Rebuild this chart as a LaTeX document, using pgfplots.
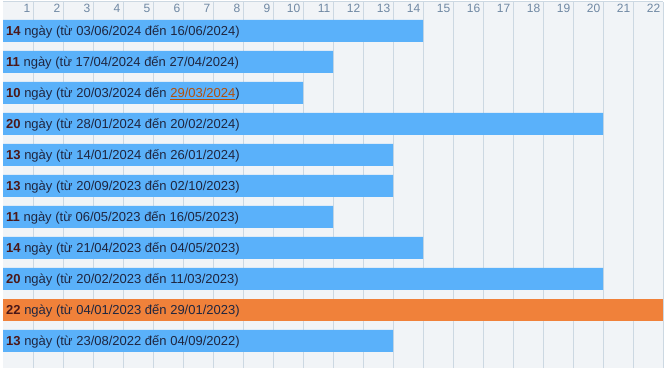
\documentclass[border=0pt]{standalone}
\usepackage{pgfplots}
\pgfplotsset{compat=1.18}
\usepackage{fontspec}
\setmainfont{Liberation Sans}
\definecolor{barblue}{HTML}{5AB1FA}
\definecolor{barorange}{HTML}{F0813A}
\definecolor{bgc}{HTML}{F1F4F7}
\definecolor{gridc}{HTML}{CCD8E2}
\definecolor{tickc}{HTML}{6F88A3}
\definecolor{numc}{HTML}{4B1818}
\definecolor{txtc}{HTML}{1F2640}
\definecolor{datec}{HTML}{B2500C}
\newcommand{\lbl}[2]{\textbf{\color{numc}#1}~ngày (từ #2)}
\begin{document}
\begin{tikzpicture}
\path[use as bounding box] (-3bp,0) rectangle (661bp,368bp);
\begin{axis}[
  scale only axis,
  width=660bp, height=366bp,
  xmin=0, xmax=22, ymin=0, ymax=366,
  axis background/.style={fill=bgc},
  axis line style={draw=none},
  xtick={1,...,22},
  ytick=\empty,
  xmajorgrids,
  major grid style={gridc, line width=1bp},
  major tick length=0pt,
  xticklabel pos=upper,
  /pgf/number format/assume math mode=true,
  xticklabel style={anchor=north east, inner sep=0pt, xshift=-2.5bp, yshift=-2bp, text=tickc, font=\fontsize{12bp}{14bp}\selectfont},
  clip=false,
]
\addplot[xbar, bar shift=0pt, bar width=22bp, fill=barblue, draw=none]
  coordinates {(14,337) (11,306) (10,275) (20,244) (13,213) (13,182) (11,151) (14,120) (20,89) (13,27)};
\addplot[xbar, bar shift=0pt, bar width=22bp, fill=barorange, draw=none]
  coordinates {(22,58)};
\draw[gridc, line width=1bp] (rel axis cs:0,1) -- (rel axis cs:1,1);
\tikzset{lab/.style={anchor=base west, inner sep=0pt, xshift=3bp, yshift=-4.5bp, text=txtc, font=\fontsize{13bp}{15bp}\selectfont}}
\node[lab] at (axis cs:0,337) {\lbl{14}{03/06/2024 đến 16/06/2024}};
\node[lab] at (axis cs:0,306) {\lbl{11}{17/04/2024 đến 27/04/2024}};
\node[lab] at (axis cs:0,275) {\lbl{10}{20/03/2024 đến {\color{datec}\underline{29/03/2024}}}};
\node[lab] at (axis cs:0,244) {\lbl{20}{28/01/2024 đến 20/02/2024}};
\node[lab] at (axis cs:0,213) {\lbl{13}{14/01/2024 đến 26/01/2024}};
\node[lab] at (axis cs:0,182) {\lbl{13}{20/09/2023 đến 02/10/2023}};
\node[lab] at (axis cs:0,151) {\lbl{11}{06/05/2023 đến 16/05/2023}};
\node[lab] at (axis cs:0,120) {\lbl{14}{21/04/2023 đến 04/05/2023}};
\node[lab] at (axis cs:0,89) {\lbl{20}{20/02/2023 đến 11/03/2023}};
\node[lab] at (axis cs:0,58) {\lbl{22}{04/01/2023 đến 29/01/2023}};
\node[lab] at (axis cs:0,27) {\lbl{13}{23/08/2022 đến 04/09/2022}};
\end{axis}
\end{tikzpicture}
\end{document}
